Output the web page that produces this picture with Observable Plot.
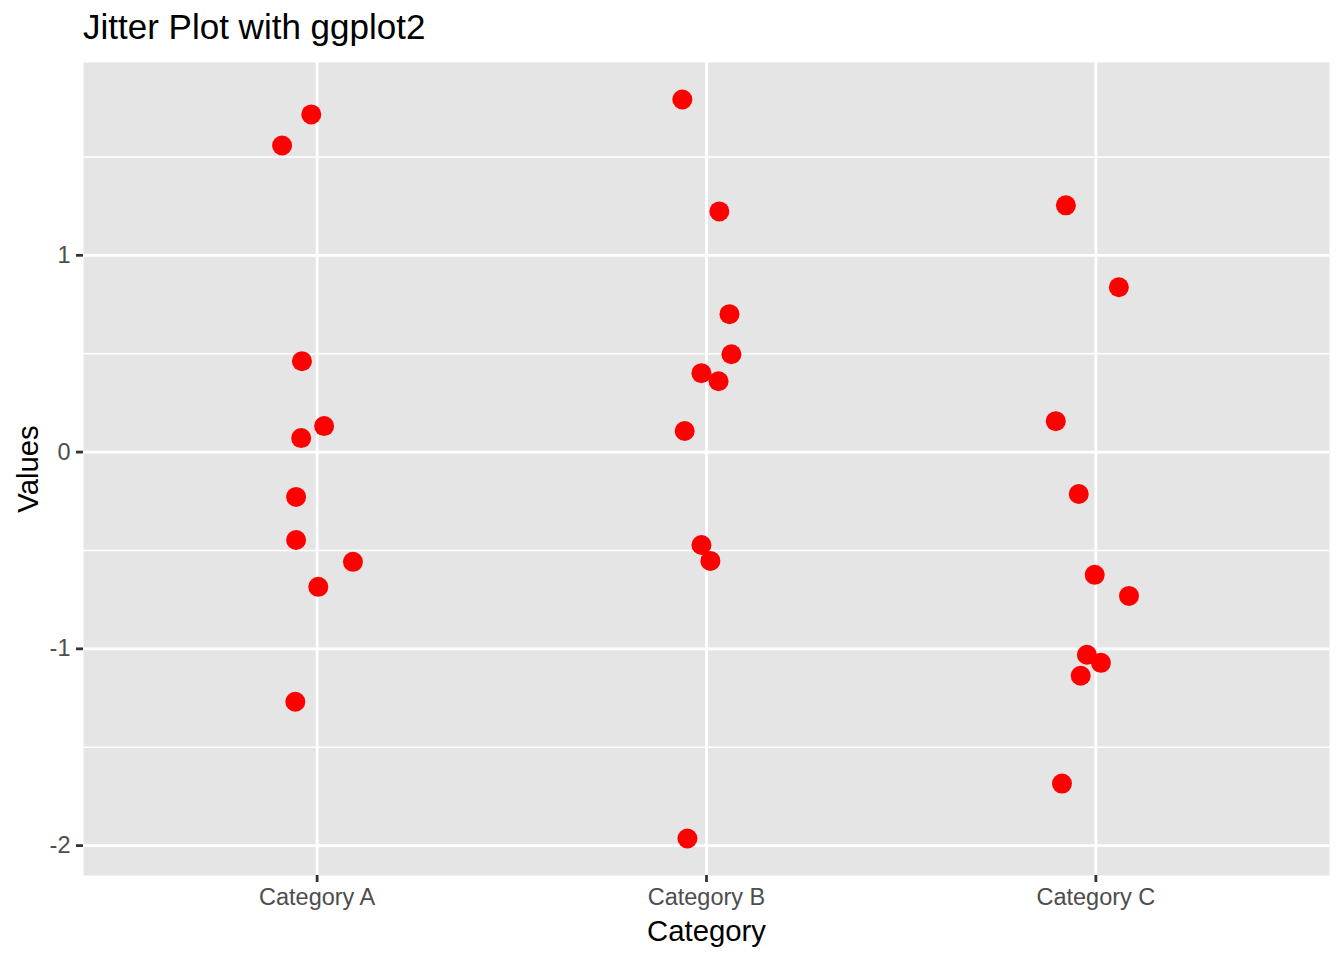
<!DOCTYPE html>
<html>
<head>
<meta charset="utf-8">
<script src="https://cdn.jsdelivr.net/npm/d3@7"></script>
<script src="https://cdn.jsdelivr.net/npm/@observablehq/plot@0.6"></script>
<style>
  html, body { margin: 0; padding: 0; background: #ffffff; }
  #title { height: 50px; box-sizing: border-box; padding: 7px 0 0 83px; font-family: "Liberation Sans", Arial, sans-serif; font-size: 35px; color: #000; line-height: normal; white-space: nowrap; }
  #chart svg { display: block; }
</style>
</head>
<body>
<div id="title">Jitter Plot with ggplot2</div>
<div id="chart"></div>
<script>
// ---- data ----
const categories = ["Category A", "Category B", "Category C"];
const valuesA = [1.558, 1.716, 0.462, 0.132, 0.071, -0.228, -0.447, -0.558, -0.685, -1.269];
const jitterA = [-0.090, -0.015, -0.039, 0.018, -0.041, -0.054, -0.054, 0.092, 0.003, -0.056];
const valuesB = [1.792, 1.223, 0.701, 0.497, 0.401, 0.360, 0.107, -0.472, -0.553, -1.964];
const jitterB = [-0.062, 0.033, 0.059, 0.064, -0.013, 0.031, -0.056, -0.013, 0.010, -0.049];
const valuesC = [1.254, 0.838, 0.157, -0.213, -0.624, -0.731, -1.030, -1.071, -1.137, -1.685];
const jitterC = [-0.077, 0.059, -0.103, -0.044, -0.003, 0.085, -0.023, 0.013, -0.039, -0.087];
const yMajorTicks = [-2, -1, 0, 1];
const yMinorTicks = [-1.5, -0.5, 0.5, 1.5];
const xLabel = "Category";
const yLabel = "Values";

// ---- build table ----
const groups = [[valuesA, jitterA], [valuesB, jitterB], [valuesC, jitterC]];
const points = [];
groups.forEach(([vals, jit], gi) => {
  vals.forEach((v, i) => points.push({category: categories[gi], index: gi + 1, jitter: jit[i], value: v}));
});
const catPositions = categories.map((c, i) => i + 1);

const font = '"Liberation Sans", Arial, sans-serif';

const chart = Plot.plot({
  width: 1344,
  height: 910,
  marginTop: 12,
  marginBottom: 85,
  marginLeft: 83,
  marginRight: 15,
  style: {fontFamily: font, fontSize: "23.5px", background: "#ffffff", color: "#000"},
  x: {type: "linear", domain: [0.4, 3.6]},
  y: {domain: [-2.152, 1.98]},
  marks: [
    Plot.frame({fill: "#E5E5E5", stroke: null}),
    Plot.ruleY(yMinorTicks, {stroke: "#ffffff", strokeWidth: 1.4}),
    Plot.ruleY(yMajorTicks, {stroke: "#ffffff", strokeWidth: 2.8}),
    Plot.ruleX(catPositions, {stroke: "#ffffff", strokeWidth: 2.8}),
    Plot.dot(points, {x: d => d.index + d.jitter, y: "value", r: 10, fill: "#FF0000"}),
    Plot.axisY({ticks: yMajorTicks, tickSize: 7, tickPadding: 6, stroke: "#333333", strokeWidth: 2.8, fill: "#4D4D4D", fontSize: 23.5, label: null, tickFormat: d => d < 0 ? "-" + Math.abs(d) : String(d)}),
    Plot.axisX({ticks: catPositions, tickSize: 7, tickPadding: 6, stroke: "#333333", strokeWidth: 2.8, fill: "#4D4D4D", fontSize: 23.5, label: null, tickFormat: d => categories[d - 1]}),
    Plot.text([yLabel], {text: d => d, frameAnchor: "left", dx: -55, rotate: -90, fontSize: 29.3, fill: "#000", textAnchor: "middle", lineAnchor: "middle"}),
    Plot.text([xLabel], {text: d => d, frameAnchor: "bottom", dy: 56, fontSize: 29.3, fill: "#000", textAnchor: "middle", lineAnchor: "middle"})
  ]
});
document.getElementById("chart").appendChild(chart);
</script>
</body>
</html>
